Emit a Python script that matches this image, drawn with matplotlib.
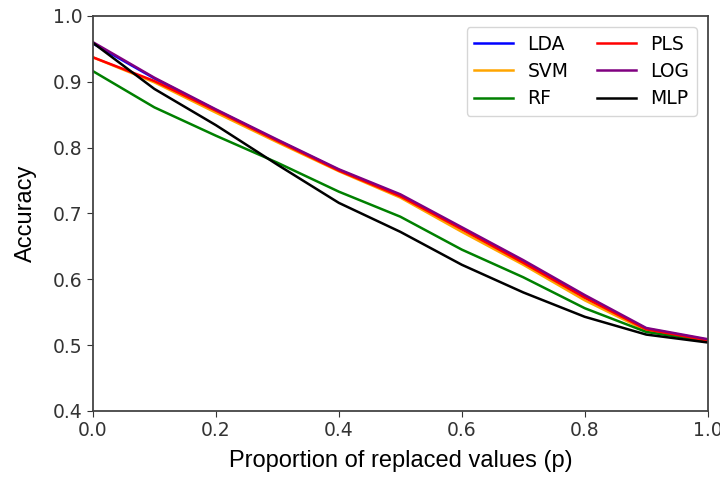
import matplotlib
matplotlib.use("Agg")
import matplotlib.pyplot as plt

p = [0.0, 0.1, 0.2, 0.3, 0.4, 0.5, 0.6, 0.7, 0.8, 0.9, 1.0]
lda = [0.958, 0.905, 0.857, 0.811, 0.766, 0.727, 0.677, 0.627, 0.573, 0.525, 0.508]
svm = [0.937, 0.899, 0.853, 0.808, 0.764, 0.724, 0.672, 0.622, 0.568, 0.522, 0.507]
rf = [0.916, 0.861, 0.818, 0.777, 0.733, 0.695, 0.645, 0.603, 0.556, 0.520, 0.506]
pls = [0.937, 0.901, 0.856, 0.810, 0.765, 0.726, 0.676, 0.625, 0.572, 0.524, 0.507]
log = [0.960, 0.906, 0.858, 0.812, 0.767, 0.729, 0.679, 0.629, 0.576, 0.526, 0.509]
mlp = [0.959, 0.889, 0.834, 0.774, 0.716, 0.672, 0.622, 0.580, 0.543, 0.516, 0.504]

series = [("LDA", lda, "blue"), ("SVM", svm, "orange"), ("RF", rf, "green"),
          ("PLS", pls, "red"), ("LOG", log, "purple"), ("MLP", mlp, "black")]

fig = plt.figure(figsize=(7.2, 4.79), dpi=100)
ax = fig.add_axes([0.129, 0.142, 0.854, 0.825])
for name, vals, c in series:
    ax.plot(p, vals, color=c, lw=1.8, label=name)

ax.set_xlim(0, 1)
ax.set_ylim(0.4, 1.0)
ax.set_xticks([0, 0.2, 0.4, 0.6, 0.8, 1.0])
ax.set_yticks([0.4, 0.5, 0.6, 0.7, 0.8, 0.9, 1.0])
ax.tick_params(labelsize=13.5, colors="#333333", length=4)
for s in ax.spines.values():
    s.set_color("#444444")
    s.set_linewidth(1.3)
ax.set_xlabel("Proportion of replaced values (p)", fontsize=17, family="Liberation Sans", labelpad=7)
ax.set_ylabel("Accuracy", fontsize=17, family="Liberation Sans", labelpad=11)
ax.legend(ncol=2, loc="upper right", fontsize=13.5, handlelength=2.1, columnspacing=1.5,
          labelspacing=0.45, borderaxespad=0.6, handletextpad=0.75)
fig.savefig("out.png", dpi=100)
